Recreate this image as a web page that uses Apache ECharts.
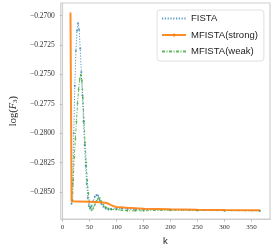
<!DOCTYPE html>
<html><head><meta charset="utf-8">
<script src="https://cdn.jsdelivr.net/npm/echarts@6/dist/echarts.min.js"></script>
<style>html,body{margin:0;padding:0;background:#fff}#c{width:272px;height:251px}</style>
</head><body><div id="c"></div>
<script>
const seriesNames = ['FISTA', 'MFISTA(strong)', 'MFISTA(weak)'];
const xTicks = [0, 50, 100, 150, 200, 250, 300, 350];
const yTicks = [-0.2700, -0.2725, -0.2750, -0.2775, -0.2800, -0.2825, -0.2850];

const fistaK = [17,19,21,23,25,27,29,31,33,35,37,39,41,43,45,47,49,51,54,57,60,63,66,69,72,76,80,85,90,100,110,120,135,150,200,250,300,365];
const fistaV = [-0.2860,-0.2843,-0.2800,-0.2760,-0.2730,-0.2713,-0.27066,-0.2712,-0.2728,-0.2748,-0.2768,-0.2790,-0.2810,-0.2828,-0.2843,-0.2855,-0.2862,-0.2864,-0.2862,-0.2858,-0.2854,-0.28525,-0.2853,-0.2857,-0.2860,-0.28625,-0.2864,-0.2865,-0.28645,-0.2864,-0.2864,-0.28645,-0.2865,-0.2865,-0.28652,-0.28655,-0.28657,-0.28659];

const strongK = [15,17,30,50,70,80,85,90,95,100,120,150,200,250,300,365];
const strongV = [-0.26973,-0.28580,-0.28581,-0.28583,-0.28587,-0.28592,-0.28600,-0.28612,-0.28622,-0.28628,-0.28634,-0.28642,-0.28648,-0.28651,-0.28653,-0.28655];

const weakK = [19,20,22,24,26,28,30,32,34,36,38,40,42,44,46,48,50,52,54,57,60,63,66,69,72,76,80,85,90,100,110,120,135,150,200,250,300,365];
const weakV = [-0.2858,-0.2840,-0.2820,-0.2805,-0.2790,-0.2775,-0.2763,-0.2754,-0.27503,-0.2755,-0.2770,-0.2790,-0.2808,-0.2825,-0.2840,-0.2851,-0.2859,-0.2863,-0.28655,-0.2864,-0.2861,-0.2858,-0.28555,-0.28552,-0.2858,-0.2861,-0.2863,-0.2864,-0.2865,-0.2865,-0.28655,-0.2866,-0.2866,-0.2866,-0.28655,-0.28657,-0.28659,-0.2866];

const zip = (k, v) => k.map((x, i) => [x, v[i]]);
const chart = echarts.init(document.getElementById('c'), null, {renderer: 'canvas'});
const serif = 'Liberation Serif';
const sans = 'Liberation Sans';
chart.setOption({
  animation: false,
  grid: {left: 45.5, right: 2, top: 3, bottom: 25, show: true, borderColor: '#cfcfcf', borderWidth: 1.2},
  legend: {
    orient: 'vertical', left: 157, top: 10,
    data: [
      {name: seriesNames[0], itemStyle: {opacity: 0}},
      {name: seriesNames[1]},
      {name: seriesNames[2], itemStyle: {opacity: 0}}
    ],
    itemWidth: 24, itemHeight: 4, itemGap: 5.5,
    padding: [3, 6, 4, 4],
    backgroundColor: '#fff', borderColor: '#e0e0e0', borderWidth: 1, borderRadius: 3,
    textStyle: {fontFamily: sans, fontSize: 9.5, color: '#222', lineHeight: 11}
  },
  xAxis: {
    type: 'value', min: -3, max: 384,
    name: 'k', nameLocation: 'middle', nameGap: 16,
    nameTextStyle: {fontFamily: sans, fontSize: 9.5, color: '#222'},
    axisLine: {lineStyle: {color: '#cfcfcf', width: 1.2}},
    axisTick: {show: true, length: 2.5, customValues: xTicks, lineStyle: {color: '#bbb'}},
    axisLabel: {customValues: xTicks, fontFamily: serif, fontSize: 7, color: '#333', margin: 5},
    splitLine: {show: false}
  },
  yAxis: {
    type: 'value', min: -0.28731, max: -0.26893,
    name: '{a|log(}{i|F}{s|3}{a|)}', nameLocation: 'middle', nameGap: 35, nameRotate: 90,
    nameTextStyle: {
      color: '#222',
      rich: {
        a: {fontFamily: serif, fontSize: 10.5, color: '#222'},
        i: {fontFamily: serif, fontSize: 10.5, fontStyle: 'italic', color: '#222'},
        s: {fontFamily: serif, fontSize: 7, color: '#222', verticalAlign: 'bottom', padding: [4, 0, 0, 0]}
      }
    },
    axisLine: {show: true, lineStyle: {color: '#cfcfcf', width: 1.2}},
    axisTick: {show: true, length: 2.5, customValues: yTicks, lineStyle: {color: '#bbb'}},
    axisLabel: {customValues: yTicks, fontFamily: serif, fontSize: 7.5, color: '#333', margin: 6,
      formatter: v => (v < 0 ? '\u2212' : '') + Math.abs(v).toFixed(4)},
    splitLine: {show: false}
  },
  series: [
    {name: seriesNames[0], type: 'line', data: zip(fistaK, fistaV), z: 2,
     symbol: 'circle', symbolSize: 2, itemStyle: {color: '#1f77b4', opacity: 0.7},
     lineStyle: {color: '#1f77b4', width: 1, type: [1.2, 1.6], opacity: 0.75}},
    {name: seriesNames[2], type: 'line', data: zip(weakK, weakV), z: 3,
     symbol: 'circle', symbolSize: 2, itemStyle: {color: '#2ca02c', opacity: 0.7},
     lineStyle: {color: '#2ca02c', width: 1, type: [3, 1.5, 1, 1.5], opacity: 0.75}},
    {name: seriesNames[1], type: 'line', data: zip(strongK, strongV), z: 4,
     symbol: 'circle', symbolSize: 2.5, showSymbol: false, itemStyle: {color: '#ff7f0e'},
     lineStyle: {color: '#ff7f0e', width: 2, opacity: 0.9}}
  ]
});
</script></body></html>
